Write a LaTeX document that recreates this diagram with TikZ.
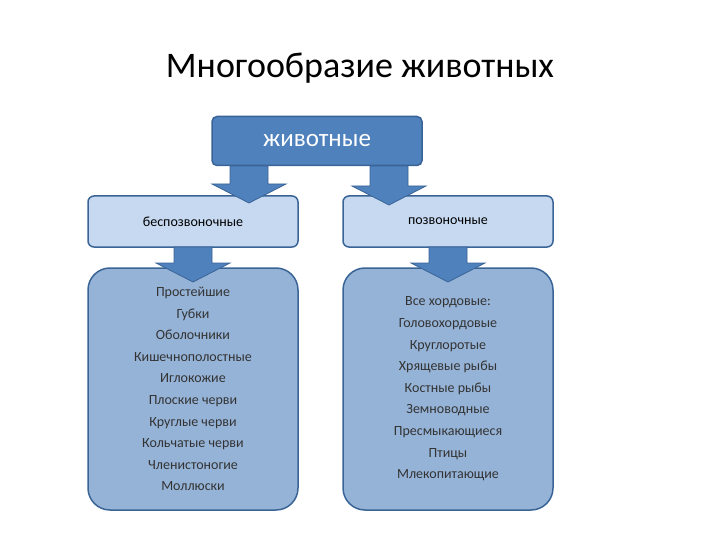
\documentclass[tikz,border=0pt]{standalone}
\usepackage{fontspec}
\setmainfont{Carlito}
\usetikzlibrary{calc}
\definecolor{dk}{HTML}{4A77B0}
\definecolor{mid}{HTML}{4F81BD}
\definecolor{lt}{HTML}{C6D9F1}
\definecolor{bl}{HTML}{95B3D7}
\definecolor{edge}{HTML}{3A6496}
\tikzset{
 topbox/.style={draw=edge,line width=1.5pt,fill=mid,rounded corners=5pt,minimum width=210pt,minimum height=49pt,text=white,font=\fontsize{25}{28}\selectfont},
 midbox/.style={draw=edge,line width=1.5pt,fill=lt,rounded corners=6pt,minimum width=210pt,minimum height=51pt,font=\fontsize{14}{16}\selectfont},
 botbox/.style={draw=edge,line width=1.5pt,fill=bl,rounded corners=22pt,minimum width=210pt,minimum height=242pt,align=center,text=black!80,font=\fontsize{14}{21.6}\selectfont},
 fatarr/.style={fill=mid,draw=edge,line width=0.8pt,line join=miter}
}
\newcommand{\fatarrow}[3]{% x, ytop, ytip
 \filldraw[fatarr] (#1-19,#2) -- (#1+19,#2) -- (#1+19,#3-19) -- (#1+37,#3-19) -- (#1,#3) -- (#1-37,#3-19) -- (#1-19,#3-19) -- cycle;}
\begin{document}
\begin{tikzpicture}[x=1pt,y=-1pt]
\useasboundingbox (0,0) rectangle (720,540);
\node (title) at (360,68) {\fontsize{36}{40}\selectfont Многообразие животных};
\node[botbox] (bl) at (193,389) {Простейшие\\Губки\\Оболочники\\Кишечнополостные\\Иглокожие\\Плоские черви\\Круглые черви\\Кольчатые черви\\Членистоногие\\Моллюски};
\node[botbox] (br) at (448,389) {Все хордовые:\\Головохордовые\\Круглоротые\\Хрящевые рыбы\\Костные рыбы\\Земноводные\\Пресмыкающиеся\\Птицы\\Млекопитающие};
\node[midbox] (ml) at (193,221.5) {беспозвоночные};
\node[midbox] (mr) at (448,221.5) {позвоночные};
\node[topbox] (top) at (317,141) {животные};
\path (top.south) ++(-68,0) coordinate (a1) (top.south) ++(72,0) coordinate (a2);
\fatarrow{249}{166}{203}
\fatarrow{389}{166}{205}
\fatarrow{193}{247}{282}
\fatarrow{448}{247}{282}
\end{tikzpicture}
\end{document}
